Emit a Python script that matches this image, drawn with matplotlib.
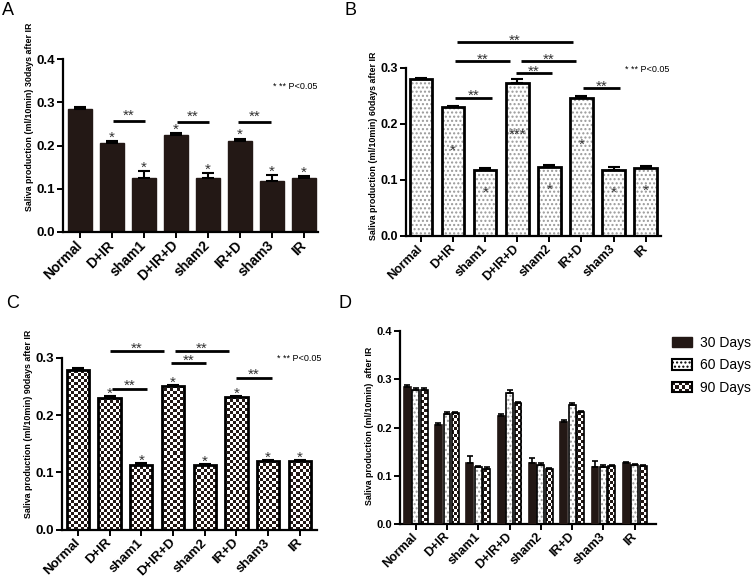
import numpy as np
import matplotlib.pyplot as plt
from matplotlib.patches import Patch, Rectangle
from matplotlib.colors import ListedColormap
from matplotlib.legend_handler import HandlerBase

plt.rcParams['font.family'] = ['Liberation Sans', 'DejaVu Sans']

# datos
groups = ['Normal', 'D+IR', 'sham1', 'D+IR+D', 'sham2', 'IR+D', 'sham3', 'IR']

day30 = [0.285, 0.206, 0.126, 0.224, 0.126, 0.211, 0.118, 0.126]
day30_err = [0.004, 0.004, 0.014, 0.005, 0.010, 0.005, 0.013, 0.003]
day60 = [0.279, 0.229, 0.117, 0.272, 0.123, 0.246, 0.117, 0.121]
day60_err = [0.003, 0.003, 0.003, 0.007, 0.003, 0.004, 0.005, 0.003]
day90 = [0.279, 0.230, 0.113, 0.251, 0.113, 0.232, 0.119, 0.120]
day90_err = [0.003, 0.003, 0.004, 0.002, 0.002, 0.002, 0.002, 0.002]

stars30 = ['', '*', '*', '*', '*', '*', '*', '*']
stars60 = ['', '*', '*', '***', '*', '*', '*', '*']
stars90 = ['', '*', '*', '*', '*', '*', '*', '*']

# lineas de significancia: (desde, hasta, altura)
lines30 = [(1.02, 2.03, 0.256), (3.02, 4.04, 0.255), (4.93, 5.96, 0.255)]
lines60 = [(1.06, 2.21, 0.246), (2.96, 4.08, 0.290), (1.06, 2.77, 0.312),
           (3.12, 4.83, 0.312), (1.12, 4.74, 0.345), (5.05, 6.20, 0.263)]
lines90 = [(1.07, 2.18, 0.246), (1.01, 2.71, 0.312), (3.06, 4.76, 0.312),
           (2.93, 4.04, 0.290), (4.98, 6.12, 0.265)]

dark = '#231815'
x = np.arange(len(groups))
W, H = 756, 584

fig = plt.figure(figsize=(W / 100, H / 100), dpi=100)


def box(l, r, b, t):
    return [l / W, 1 - b / H, (r - l) / W, (b - t) / H]


axA = fig.add_axes(box(63, 318, 232, 59))
axB = fig.add_axes(box(406, 661, 235.7, 67.7))
axC = fig.add_axes(box(62, 317, 529.7, 357.7))
axD = fig.add_axes(box(400, 656, 523.7, 331.3))


def style(ax, top, xlim, xsize, ysize, ylabel, lx, ly):
    ax.set_ylim(0, top)
    ax.set_xlim(*xlim)
    ax.spines[['top', 'right']].set_visible(False)
    ax.spines[['left', 'bottom']].set_linewidth(1.6)
    ax.set_yticks(np.arange(0, top + 0.01, 0.1))
    ax.yaxis.set_major_formatter('{x:.1f}')
    ax.set_xticks(x, groups, rotation=45, ha='right', va='center', rotation_mode='anchor')
    ax.tick_params(width=1.4, length=4, pad=2)
    ax.tick_params(axis='x', pad=4, labelsize=xsize)
    ax.tick_params(axis='y', labelsize=ysize)
    for lab in ax.get_xticklabels() + ax.get_yticklabels():
        lab.set_fontweight('bold')
    ax.set_ylabel(ylabel, fontsize=6.4, fontweight='bold', va='center', ha='center')
    ax.yaxis.set_label_coords(lx, ly)


def checker(ax, bars):
    # relleno de tablero de ajedrez recortado a cada barra
    pos = ax.get_position()
    nx = int(pos.width * W / 3)
    ny = int(pos.height * H / 3)
    grid = np.indices((ny, nx)).sum(axis=0) % 2
    x0, x1 = ax.get_xlim()
    y0, y1 = ax.get_ylim()
    cmap = ListedColormap([dark, 'white'])
    for b in bars:
        im = ax.imshow(grid, cmap=cmap, extent=(x0, x1, y0, y1), aspect='auto',
                       interpolation='nearest', zorder=2)
        im.set_clip_path(b)
    ax.set_xlim(x0, x1)
    ax.set_ylim(y0, y1)


def dotted(ax, pos, vals, width, lw):
    ax.bar(pos, vals, width, color='white', edgecolor='#999999', linewidth=0,
           hatch='....', zorder=2)
    return ax.bar(pos, vals, width, color='none', edgecolor='black', linewidth=lw, zorder=3)


def sig_lines(ax, lines, dy):
    for a, b, h in lines:
        ax.plot([a, b], [h, h], color='black', lw=2, clip_on=False, solid_capstyle='butt')
        ax.annotate('**', ((a + b) / 2, h), xytext=(0, dy), textcoords='offset points',
                    ha='center', va='center', fontsize=11, color='#333333',
                    annotation_clip=False)


def top_stars(ax, vals, errs, stars, dy):
    for i in x:
        ax.annotate(stars[i], (i, vals[i] + errs[i]), xytext=(0, dy), textcoords='offset points',
                    ha='center', va='center', fontsize=11, color='#333333')


def errs(ax, pos, vals, err, cap, lw=1.5):
    ax.errorbar(pos, vals, yerr=[np.zeros(len(vals)), err], fmt='none', ecolor='black',
                elinewidth=lw, capsize=cap, capthick=lw, zorder=4)


# A: 30 dias
style(axA, 0.4, (-0.53, 7.44), 10, 9.5, 'Saliva production (ml/10min) 30days after IR', -0.13, 0.665)
axA.bar(x, day30, 0.75, color=dark, edgecolor=dark, zorder=2)
errs(axA, x, day30, day30_err, 4.5)
sig_lines(axA, lines30, 3.6)
top_stars(axA, day30, day30_err, stars30, 2.5)
axA.text(6.03, 0.337, '* ** P<0.05', fontsize=6.5, ha='left', va='center')

# B: 60 dias
style(axB, 0.3, (-0.47, 7.48), 9, 9, 'Saliva production (ml/10min) 60days after IR', -0.129, 0.534)
dotted(axB, x, day60, 0.7, 2)
errs(axB, x, day60, day60_err, 4.5)
sig_lines(axB, lines60, 1.2)
for i in x:
    axB.text(i, day60[i] * 0.66, stars60[i], ha='center', va='center', fontsize=11, color='#333333', zorder=5)
axB.text(6.36, 0.297, '* ** P<0.05', fontsize=6.5, ha='left', va='center')

# C: 90 dias
style(axC, 0.3, (-0.5, 7.54), 9.5, 9.5, 'Saliva production (ml/10min) 90days after IR', -0.13, 0.615)
barsC = axC.bar(x, day90, 0.7, color='none', edgecolor='black', linewidth=2, zorder=3)
checker(axC, barsC)
errs(axC, x, day90, day90_err, 4.5)
sig_lines(axC, lines90, 1.8)
top_stars(axC, day90, day90_err, stars90, 1.6)
axC.text(6.28, 0.299, '* ** P<0.05', fontsize=6.5, ha='left', va='center')

# D: comparacion
style(axD, 0.4, (-0.5, 7.68), 9, 8, 'Saliva production (ml/10min)  after IR', -0.12, 0.508)
bw, off = 0.22, 0.27
axD.bar(x - off, day30, bw, color=dark, edgecolor=dark, linewidth=1.2, zorder=3)
dotted(axD, x, day60, bw, 1.2)
barsD = axD.bar(x + off, day90, bw, color='none', edgecolor='black', linewidth=1.2, zorder=3)
checker(axD, barsD)
errs(axD, x - off, day30, day30_err, 2.2, 1.2)
errs(axD, x, day60, day60_err, 2.2, 1.2)
errs(axD, x + off, day90, day90_err, 2.2, 1.2)


class CheckerHandler(HandlerBase):
    def create_artists(self, legend, orig_handle, xdescent, ydescent, width, height, fontsize, trans):
        arts = []
        rows = 3
        cell = height / rows
        cols = int(round(width / cell))
        cw = width / cols
        for r in range(rows):
            for c in range(cols):
                if (r + c) % 2 == 0:
                    arts.append(Rectangle((-xdescent + c * cw, -ydescent + r * cell), cw, cell,
                                          facecolor=dark, edgecolor='none', transform=trans))
        arts.append(Rectangle((-xdescent, -ydescent), width, height, facecolor='none',
                              edgecolor='black', lw=1.5, transform=trans))
        return arts


h30 = Patch(facecolor=dark, edgecolor=dark)
h60 = Patch(facecolor='white', edgecolor='black', hatch='....', linewidth=1.5)
h90 = Patch(facecolor='white')
fig.legend([h30, h60, h90], ['30 Days', '60 Days', '90 Days'], loc='upper left',
           bbox_to_anchor=(672 / W, 1 - 336 / H), frameon=False, fontsize=10,
           handlelength=1.45, handleheight=0.8, handletextpad=0.55, labelspacing=0.6,
           borderpad=0, borderaxespad=0, handler_map={h90: CheckerHandler()})

for lab, px, py in [('A', 2, 2), ('B', 344, 2), ('C', 6, 295), ('D', 339, 295)]:
    fig.text(px / W, 1 - py / H, lab, fontsize=13, ha='left', va='top')

plt.savefig('out.png', dpi=100)
